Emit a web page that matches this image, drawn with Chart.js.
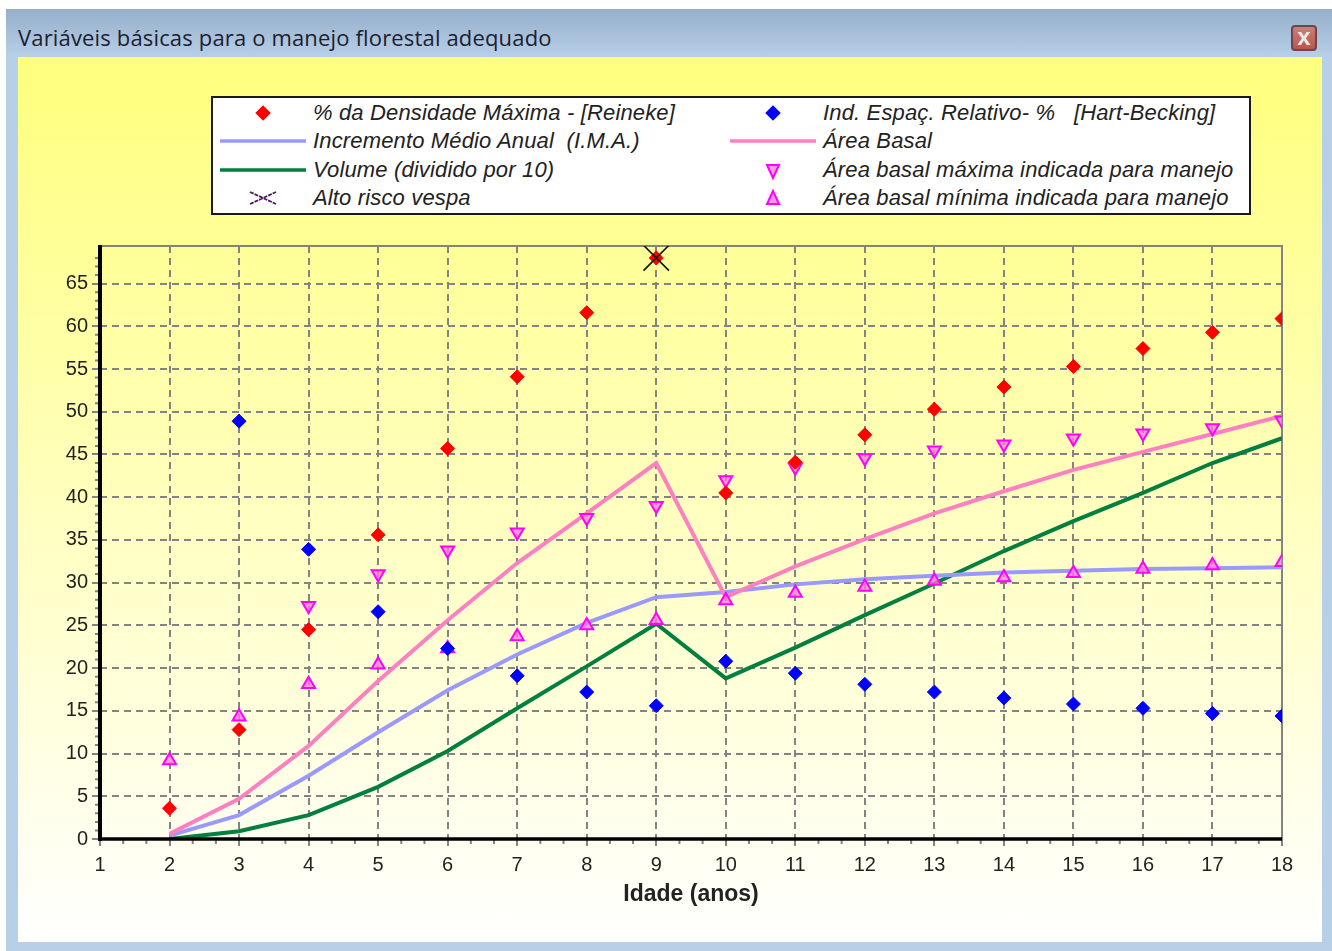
<!DOCTYPE html>
<html lang="pt">
<head>
<meta charset="utf-8">
<title>Variáveis básicas para o manejo florestal adequado</title>
<script src="https://cdn.jsdelivr.net/npm/chart.js@4"></script>
<style>
html,body{margin:0;padding:0;background:#fff;width:1332px;height:951px;overflow:hidden}
#frame{position:absolute;left:6px;top:9px;width:1326px;height:942px;background:linear-gradient(#95aec9 0,#b8cfe8 48px,#b8cfe8 100%)}
#title{position:absolute;left:18px;top:22px;font:22px "Open Sans","DejaVu Sans",sans-serif;letter-spacing:.16px;color:#1c2030;white-space:nowrap}
#close{position:absolute;left:1291px;top:25px;width:26px;height:26px;box-sizing:border-box;border:2px solid #6e4450;border-radius:4px;background:linear-gradient(#c98078,#b9564c);color:#e8e8e8;font:bold 24px/19px "Liberation Sans",sans-serif;text-align:center}
#panel{position:absolute;left:18px;top:57px;width:1304px;height:885px;background:linear-gradient(#ffff80 0,#ffff80 3%,#ffffff 100%)}
canvas{position:absolute;left:0;top:0}
#legend{position:absolute;left:211px;top:96px;width:1040px;height:119px;box-sizing:border-box;border:2px solid #1a1a1a;background:#fff;font:italic 22px "Liberation Sans",Arial,sans-serif;letter-spacing:.15px;color:#222}
.item{position:absolute;white-space:nowrap;height:28px;line-height:28px}
.item svg{position:absolute;left:0;top:0}
.item span{position:absolute;top:0}
</style>
</head>
<body>
<div id="frame"></div>
<div id="panel"></div>
<div id="title">Variáveis básicas para o manejo florestal adequado</div>
<div id="close">x</div>
<canvas id="c" width="1332" height="951"></canvas>
<div id="legend"></div>
<script>
const idade = [2,3,4,5,6,7,8,9,10,11,12,13,14,15,16,17,18];
const yTicks = [0,5,10,15,20,25,30,35,40,45,50,55,60,65];
const densidade = [3.6,12.8,24.5,35.6,45.7,54.1,61.6,68,40.5,44.1,47.3,50.3,52.9,55.3,57.4,59.3,60.9];
const espacamento = [null,48.9,33.9,26.6,22.3,19.1,17.2,15.6,20.8,19.4,18.1,17.2,16.5,15.8,15.3,14.7,14.4];
const ima = [0.4,2.8,7.4,12.5,17.4,21.6,25.3,28.3,28.9,29.8,30.4,30.8,31.2,31.4,31.6,31.7,31.8];
const areaBasal = [0.6,4.7,10.9,18.5,25.6,32.3,38.1,44,28.3,31.9,35.1,38.1,40.7,43.2,45.3,47.4,49.5];
const volume = [0,0.9,2.8,6.1,10.3,15.3,20.2,25.2,18.8,22.4,26.2,29.9,33.7,37.2,40.5,44,46.9];
const areaMax = [null,null,27.3,31,33.8,35.9,37.6,39,42,43.5,44.6,45.5,46.2,46.9,47.5,48.1,49];
const areaMin = [9.2,14.3,18.1,20.4,22.3,23.7,25,25.6,27.9,28.8,29.5,30.2,30.6,31.1,31.6,32,32.4];
const altoRisco = [null,null,null,null,null,null,null,68,null,null,null,null,null,null,null,null,null];
const labels = {
  densidade:"% da Densidade Máxima - [Reineke]",
  espacamento:"Ind. Espaç. Relativo- %\u00a0\u00a0 [Hart-Becking]",
  ima:"Incremento Médio Anual\u00a0 (I.M.A.)",
  areaBasal:"Área Basal",
  volume:"Volume (dividido por 10)",
  areaMax:"Área basal máxima indicada para manejo",
  altoRisco:"Alto risco vespa",
  areaMin:"Área basal mínima indicada para manejo"
};
const pts = a => a.map((v,i)=>({x:idade[i],y:v})).filter(p=>p.y!==null);
const TRI_FILL = "rgba(255,120,215,.75)", MAG = "#ff00ff";
const GRID = "#838383";
const points = (label,data,o)=>Object.assign({label,data:pts(data),showLine:false,pointHoverRadius:0},o);
const line = (label,data,color)=>({label,data:pts(data),borderColor:color,borderWidth:4,pointRadius:0,tension:0,showLine:true,backgroundColor:color});

const minorTicks = {
  id:"minorTicks",
  beforeDatasetsDraw(ch){
    const g=ch.ctx,x=ch.scales.x,y=ch.scales.y,a=ch.chartArea;
    g.save();
    g.strokeStyle=GRID;g.lineWidth=2;g.beginPath();
    g.moveTo(a.left,a.top);g.lineTo(a.right,a.top);g.lineTo(a.right,a.bottom);g.stroke();
    g.beginPath();
    for(let v=1;v<18;v++)for(const f of [1/3,2/3]){const p=x.getPixelForValue(v+f);g.moveTo(p,a.bottom);g.lineTo(p,a.bottom+5);}
    for(let v=0;v<69;v++){if(v%5===0)continue;const p=y.getPixelForValue(v);g.moveTo(a.left,p);g.lineTo(a.left-5,p);}
    g.stroke();
    g.restore();
  },
  afterDatasetsDraw(ch){
    const g=ch.ctx,a=ch.chartArea;
    g.save();g.strokeStyle="#000";
    g.lineWidth=4;g.beginPath();g.moveTo(a.left,a.top-1);g.lineTo(a.left,a.bottom+2);g.stroke();
    g.lineWidth=3.5;g.beginPath();g.moveTo(a.left,a.bottom);g.lineTo(a.right,a.bottom);g.stroke();
    g.restore();
  }
};

new Chart(document.getElementById("c"),{
  type:"scatter",
  plugins:[minorTicks],
  data:{datasets:[
    points(labels.altoRisco,altoRisco,{pointStyle:"cross",rotation:45,pointRadius:18,pointBorderColor:"#111",pointBorderWidth:1.6,borderColor:"#111",order:0}),
    points(labels.densidade,densidade,{pointStyle:"rectRot",pointRadius:7,backgroundColor:"#ff0000",borderColor:"#ff0000",order:1}),
    points(labels.espacamento,espacamento,{pointStyle:"rectRot",pointRadius:7,backgroundColor:"#0000ff",borderColor:"#0000ff",order:2}),
    points(labels.areaMax,areaMax,{pointStyle:"triangle",rotation:180,pointRadius:7.5,pointBorderWidth:2,backgroundColor:TRI_FILL,borderColor:MAG,order:3}),
    points(labels.areaMin,areaMin,{pointStyle:"triangle",pointRadius:7.5,pointBorderWidth:2,backgroundColor:TRI_FILL,borderColor:MAG,order:4}),
    Object.assign(line(labels.ima,ima,"#9999ff"),{order:6}),
    Object.assign(line(labels.areaBasal,areaBasal,"#ff80c0"),{order:5}),
    Object.assign(line(labels.volume,volume,"#007f3f"),{order:7})
  ]},
  options:{
    responsive:false,animation:false,
    layout:{padding:{left:0,top:246,right:50,bottom:0}},
    plugins:{legend:{display:false},tooltip:{enabled:false},title:{display:false}},
    scales:{
      x:{type:"linear",min:1,max:18,
        afterFit(s){s.height=112;},
        afterBuildTicks(s){s.ticks=[1].concat(idade).map(v=>({value:v}));},
        border:{display:false,dash:[7,5]},
        grid:{color:GRID,lineWidth:2,tickColor:GRID,tickLength:7,tickBorderDash:[]},
        ticks:{maxRotation:0,autoSkip:false,padding:7,color:"#222",font:{family:"'Liberation Sans',Arial,sans-serif",size:20},callback:v=>String(v)},
        title:{display:true,text:"Idade (anos)",color:"#222",font:{family:"'Liberation Sans',Arial,sans-serif",size:23,weight:"bold"},padding:{top:6,bottom:43}}
      },
      y:{type:"linear",min:0,max:69.4,
        afterFit(s){s.width=100;},
        afterBuildTicks(s){s.ticks=yTicks.map(v=>({value:v}));},
        border:{display:false,dash:[7,5]},
        grid:{color:GRID,lineWidth:2,tickColor:GRID,tickLength:8,tickBorderDash:[]},
        ticks:{padding:4,autoSkip:false,color:"#222",font:{family:"'Liberation Sans',Arial,sans-serif",size:20},callback:v=>String(v)}
      }
    }
  }
});

const icons = {
  dot:c=>`<svg width="100" height="28"><rect x="44.5" y="8.5" width="11" height="11" transform="rotate(45 50 14)" fill="${c}"/></svg>`,
  line:c=>`<svg width="100" height="28"><line x1="7" x2="93" y1="14" y2="14" stroke="${c}" stroke-width="3.6"/></svg>`,
  down:`<svg width="100" height="28"><polygon points="44,9 56,9 50,22" fill="${TRI_FILL}" stroke="${MAG}" stroke-width="2"/></svg>`,
  up:`<svg width="100" height="28"><polygon points="44,20 56,20 50,7" fill="${TRI_FILL}" stroke="${MAG}" stroke-width="2"/></svg>`,
  x:`<svg width="100" height="28"><path d="M37 8 L63 20 M37 20 L63 8" stroke="#4b1a5c" stroke-width="1.8" stroke-dasharray="4 1" fill="none"/></svg>`
};
const legendRows = [
  [labels.densidade,icons.dot("#ff0000"),0,0],
  [labels.espacamento,icons.dot("#0000ff"),1,0],
  [labels.ima,icons.line("#9999ff"),0,1],
  [labels.areaBasal,icons.line("#ff80c0"),1,1],
  [labels.volume,icons.line("#007f3f"),0,2],
  [labels.areaMax,icons.down,1,2],
  [labels.altoRisco,icons.x,0,3],
  [labels.areaMin,icons.up,1,3]
];
const rowTops=[1,29,58,86], colLefts=[0,510];
document.getElementById("legend").innerHTML = legendRows.map(([t,ic,c,r])=>
  `<div class="item" style="left:${colLefts[c]}px;top:${rowTops[r]}px">${ic}<span style="left:100px">${t}</span></div>`).join("");
</script>
</body>
</html>
